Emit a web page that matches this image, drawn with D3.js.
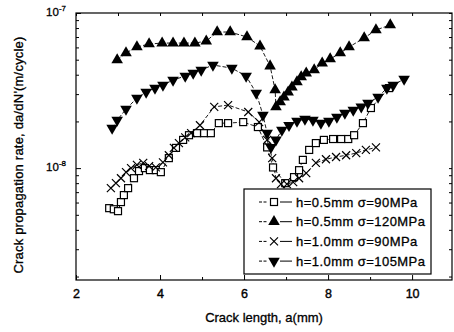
<!DOCTYPE html>
<html><head><meta charset="utf-8">
<script src="https://cdn.jsdelivr.net/npm/d3@7"></script>
<style>
body{margin:0;background:#fff;}
svg{display:block;font-family:"Liberation Sans",Arial,sans-serif;}
</style></head>
<body><svg id="c" width="454" height="332"></svg>
<script>
// ---- data ----
const xTicks = [2, 4, 6, 8, 10];
const xMinor = [3, 5, 7, 9];
const yMajor = [1e-8, 1e-7];
const yMajorLabels = ["-8", "-7"];

// h=0.5mm σ=90MPa (open squares)
const sqX = [2.79,2.90,3.00,3.07,3.14,3.24,3.38,3.50,3.64,3.76,3.90,4.02,4.21,4.38,4.55,4.69,4.88,5.05,5.21,5.40,5.62,5.98,6.33,6.55,6.69,6.98,7.19,7.31,7.40,7.55,7.71,7.90,8.12,8.31,8.48,8.62,8.83,9.02,9.45];
const sqY = [5.52e-9,5.43e-9,5.28e-9,6.04e-9,6.70e-9,7.43e-9,8.61e-9,9.57e-9,1.0e-8,9.71e-9,9.71e-9,9.42e-9,1.16e-8,1.35e-8,1.52e-8,1.63e-8,1.68e-8,1.68e-8,1.68e-8,1.95e-8,1.95e-8,1.98e-8,1.84e-8,1.36e-8,1.01e-8,8.0e-9,8.75e-9,9.7e-9,1.13e-8,1.31e-8,1.45e-8,1.52e-8,1.54e-8,1.54e-8,1.54e-8,1.63e-8,1.95e-8,2.44e-8,3.28e-8];

// h=0.5mm σ=120MPa (filled up triangles)
const upX = [2.98,3.19,3.45,3.74,4.05,4.31,4.57,4.83,5.10,5.36,5.67,6.07,6.38,6.62,6.74,6.76,6.86,6.95,7.05,7.14,7.26,7.36,7.48,7.67,7.86,8.05,8.29,8.50,8.86,9.14,9.48];
const upY = [4.98e-8,5.52e-8,6.04e-8,6.31e-8,6.4e-8,6.4e-8,6.4e-8,6.4e-8,6.59e-8,7.54e-8,7.54e-8,7.0e-8,6.12e-8,4.55e-8,3.19e-8,2.48e-8,2.67e-8,2.87e-8,3.09e-8,3.33e-8,3.59e-8,3.87e-8,4.1e-8,4.29e-8,4.75e-8,5.05e-8,5.52e-8,6.04e-8,6.9e-8,7.77e-8,8.37e-8];

// h=1.0mm σ=90MPa (crosses)
const crX = [2.83,2.95,3.07,3.19,3.31,3.45,3.60,3.74,3.90,4.07,4.21,4.33,4.45,4.60,4.74,4.95,5.29,5.62,6.10,6.36,6.55,6.67,6.76,6.88,7.02,7.17,7.31,7.48,7.71,7.95,8.19,8.43,8.67,8.90,9.14];
const crY = [7.43e-9,8.0e-9,8.61e-9,9.42e-9,1.0e-8,1.05e-8,1.08e-8,1.03e-8,1.01e-8,1.09e-8,1.21e-8,1.35e-8,1.45e-8,1.58e-8,1.68e-8,1.89e-8,2.48e-8,2.55e-8,2.30e-8,1.98e-8,1.52e-8,1.16e-8,8.61e-9,7.88e-9,7.88e-9,8.13e-9,8.61e-9,9.29e-9,1.08e-8,1.14e-8,1.18e-8,1.21e-8,1.25e-8,1.31e-8,1.36e-8];

// h=1.0mm σ=105MPa (filled down triangles)
const dnX = [2.86,2.98,3.19,3.45,3.67,3.88,4.07,4.31,4.60,4.79,4.98,5.26,5.71,6.05,6.29,6.45,6.55,6.64,6.76,6.90,7.07,7.26,7.45,7.64,7.83,8.02,8.21,8.40,8.60,8.79,8.95,9.19,9.40,9.55,9.81];
const dnY = [1.81e-8,2.04e-8,2.40e-8,2.83e-8,3.09e-8,3.28e-8,3.43e-8,3.70e-8,3.92e-8,4.10e-8,4.29e-8,4.62e-8,4.41e-8,3.92e-8,3.05e-8,2.20e-8,1.68e-8,1.36e-8,1.52e-8,1.76e-8,1.89e-8,2.01e-8,2.07e-8,2.04e-8,1.95e-8,2.01e-8,2.13e-8,2.26e-8,2.37e-8,2.48e-8,2.63e-8,2.87e-8,3.28e-8,3.43e-8,3.75e-8];

const seriesNames = ["h=0.5mm \u03c3=90MPa","h=0.5mm \u03c3=120MPa","h=1.0mm \u03c3=90MPa","h=1.0mm \u03c3=105MPa"];
const seriesKinds = ["square","up","cross","down"];
const xTitle = "Crack length, a(mm)";
const yTitle = "Crack propagation rate, da/dN'(m/cycle)";

// ---- chart ----
const svg = d3.select("#c");
const L = 76, R = 452, T = 13, B = 280;
const x = d3.scaleLinear().domain([2, 10.95]).range([L, R]);
const y = d3.scaleLog().domain([1.9e-9, 1e-7]).range([B, T]);

const series = [
  {kind:"square", xs:sqX, ys:sqY},
  {kind:"up", xs:upX, ys:upY},
  {kind:"cross", xs:crX, ys:crY},
  {kind:"down", xs:dnX, ys:dnY}
];

const triPath = d3.symbol().type(d3.symbolTriangle).size(58)();

function drawMarker(g, kind, cx, cy) {
  if (kind === "square") {
    g.append("rect").attr("x", cx-3.5).attr("y", cy-3.5).attr("width", 7).attr("height", 7)
      .attr("fill", "#fff").attr("stroke", "#000").attr("stroke-width", 1.2);
  } else if (kind === "up") {
    g.append("path").attr("d", triPath).attr("transform", `translate(${cx},${cy})`).attr("fill", "#000");
  } else if (kind === "down") {
    g.append("path").attr("d", triPath).attr("transform", `translate(${cx},${cy}) rotate(180)`).attr("fill", "#000");
  } else {
    const s = 4;
    g.append("path").attr("d", `M${cx-s},${cy-s}L${cx+s},${cy+s}M${cx-s},${cy+s}L${cx+s},${cy-s}`)
      .attr("stroke", "#000").attr("stroke-width", 1.2).attr("fill", "none");
  }
}

const line = d3.line().x(d => x(d[0])).y(d => y(d[1]));
const plot = svg.append("g");
series.forEach(s => {
  const pts = s.xs.map((v, i) => [v, s.ys[i]]);
  plot.append("path").attr("d", line(pts)).attr("fill", "none").attr("stroke", "#000")
    .attr("stroke-width", 0.9).attr("stroke-dasharray", "4,2");
});
series.forEach(s => {
  const g = plot.append("g");
  s.xs.forEach((v, i) => drawMarker(g, s.kind, x(v), y(s.ys[i])));
});

// frame
svg.append("rect").attr("x", L).attr("y", T).attr("width", R-L).attr("height", B-T)
  .attr("fill", "none").attr("stroke", "#000").attr("stroke-width", 1.2);

// axes (ticks inward)
const xAxisB = d3.axisBottom(x).tickValues(xTicks).tickSizeInner(-5).tickSizeOuter(0).tickPadding(9).tickFormat(d3.format("d"));
const gx = svg.append("g").attr("transform", `translate(0,${B})`).call(xAxisB);
gx.select(".domain").remove();
gx.selectAll("text").attr("font-size", 12.5).attr("fill", "#000").attr("stroke", "#000").attr("stroke-width", 0.4)
  .attr("font-family", "Liberation Sans, Arial, sans-serif");
const gxm = svg.append("g").attr("transform", `translate(0,${B})`)
  .call(d3.axisBottom(x).tickValues(xMinor).tickSizeInner(-3).tickSizeOuter(0).tickFormat(""));
gxm.select(".domain").remove();
const gxt = svg.append("g").attr("transform", `translate(0,${T})`)
  .call(d3.axisTop(x).tickValues(xTicks.concat(xMinor)).tickSizeInner(-3).tickSizeOuter(0).tickFormat(""));
gxt.select(".domain").remove();

const yMinor = [];
for (let e = -9; e <= -8; e++) for (let m = 2; m <= 9; m++) { const v = m * Math.pow(10, e); if (v >= 1.9e-9) yMinor.push(v); }
const gy = svg.append("g").attr("transform", `translate(${L},0)`)
  .call(d3.axisLeft(y).tickValues(yMajor).tickSizeInner(-5).tickSizeOuter(0).tickFormat(""));
gy.select(".domain").remove();
const gym = svg.append("g").attr("transform", `translate(${L},0)`)
  .call(d3.axisLeft(y).tickValues(yMinor).tickSizeInner(-3).tickSizeOuter(0).tickFormat(""));
gym.select(".domain").remove();
const gyr = svg.append("g").attr("transform", `translate(${R},0)`)
  .call(d3.axisRight(y).tickValues(yMajor.concat(yMinor)).tickSizeInner(-3).tickSizeOuter(0).tickFormat(""));
gyr.select(".domain").remove();
svg.selectAll(".tick line").attr("stroke", "#000");

// y tick labels 10^-n
yMajor.forEach((v, i) => {
  const t = svg.append("text").attr("x", 66).attr("y", y(v) + 3).attr("text-anchor", "end")
    .attr("font-size", 11.5).attr("fill", "#000").attr("stroke", "#000").attr("stroke-width", 0.3);
  t.append("tspan").text("10");
  t.append("tspan").attr("dy", -5).attr("font-size", 8).text(yMajorLabels[i]);
});

// axis titles
const titleStyle = t => t.attr("font-size", 13).attr("fill", "#000").attr("stroke", "#000").attr("stroke-width", 0.3);
titleStyle(svg.append("text").attr("x", 264).attr("y", 322).attr("text-anchor", "middle").text(xTitle));
titleStyle(svg.append("text").attr("transform", `translate(23,${155}) rotate(-90)`).attr("text-anchor", "middle")
  .attr("letter-spacing", 0.2).text(yTitle));

// legend
const lg = svg.append("g");
lg.append("rect").attr("x", 244).attr("y", 189).attr("width", 187).attr("height", 85)
  .attr("fill", "#fff").attr("stroke", "#000").attr("stroke-width", 1.2);
seriesNames.forEach((name, i) => {
  const cy = 202 + i * 19.7;
  lg.append("line").attr("x1", 259).attr("x2", 268).attr("y1", cy).attr("y2", cy).attr("stroke", "#000").attr("stroke-width", 1).attr("stroke-dasharray", "3,1.5");
  lg.append("line").attr("x1", 280).attr("x2", 292).attr("y1", cy).attr("y2", cy).attr("stroke", "#000").attr("stroke-width", 1);
  drawMarker(lg, seriesKinds[i], 274, cy);
  titleStyle(lg.append("text").attr("x", 296).attr("y", cy + 4.5).attr("letter-spacing", 0.45).text(name));
});
</script></body></html>
